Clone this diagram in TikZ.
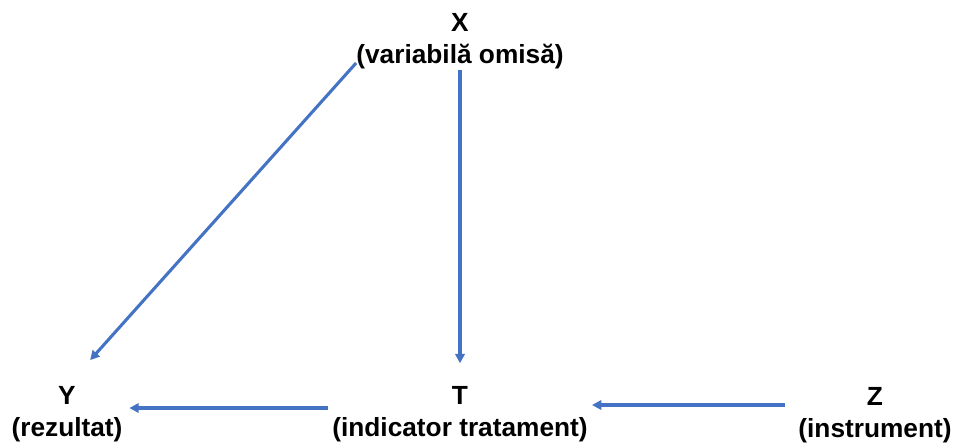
\documentclass[tikz,border=0pt]{standalone}
\usepackage{fontspec}
\setmainfont{Liberation Sans}
\usepackage{xcolor}
\usepackage{tikz}
\usetikzlibrary{positioning,arrows.meta,calc}
\definecolor{DAGblue}{HTML}{4472C4}
\definecolor{DAGtext}{HTML}{000000}
\tikzset{
  varnode/.style={align=center, inner sep=0pt, text=DAGtext, font=\fontsize{19.7}{24}\selectfont\bfseries},
  causarr/.style={-{Triangle[length=7pt, width=7pt]}, line width=2.3pt, draw=DAGblue}
}

\begin{document}
\begin{tikzpicture}[x=0.75pt, y=-0.75pt]
\useasboundingbox (0,0) rectangle (955,442);
\node[varnode] (x) at (460,41) {X\\(variabilă omisă)};
\node[varnode] (t) at (460,414) {T\\(indicator tratament)};
\node[varnode] (y) at (67,414) {Y\\(rezultat)};
\node[varnode] (z) at (875,415) {Z\\(instrument)};
\draw[causarr, shorten >=26] ([shift={(0,-6)}]x.south west) -- (y.north);
\draw[causarr, shorten <=1, shorten >=17] (x.south) -- (t.north);
\draw[causarr, shorten <=3, shorten >=5] ([shift={(0,-6)}]t.west) -- ([shift={(0,-6)}]y.east);
\draw[causarr, shorten <=10, shorten >=3] ([shift={(0,-10)}]z.west) -- ([shift={(0,-9)}]t.east);
\end{tikzpicture}
\end{document}
